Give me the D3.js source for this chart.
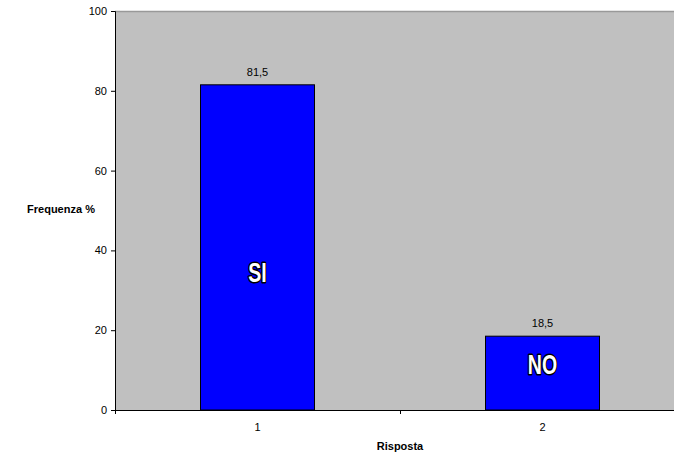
<!DOCTYPE html>
<html><head><meta charset="utf-8">
<script src="https://cdn.jsdelivr.net/npm/d3@7"></script>
<style>body{margin:0;background:#fff;overflow:hidden}svg{display:block}</style>
</head><body>
<svg id="c" width="674" height="455"></svg>
<script>
const categories = ["1", "2"];
const values = [81.5, 18.5];
const barLabels = ["SI", "NO"];
const valueLabels = ["81,5", "18,5"];
const yTicks = [0, 20, 40, 60, 80, 100];

const svg = d3.select("#c");
const L = 115, R = 685, T = 11, B = 410;
const x = d3.scaleBand().domain(categories).range([L, R]).paddingInner(0).paddingOuter(0);
const y = d3.scaleLinear().domain([0, 100]).range([B, T]);
const font = "Arial, 'Liberation Sans', sans-serif";

svg.append("rect").attr("x", L).attr("y", T).attr("width", R - L).attr("height", B - T)
  .attr("fill", "#c0c0c0");
svg.append("line").attr("x1", L).attr("x2", R).attr("y1", T + 0.5).attr("y2", T + 0.5)
  .attr("stroke", "#999").attr("stroke-width", 1.5);

const bw = x.bandwidth() * 0.4;
const g = svg.append("g");
categories.forEach((c, i) => {
  const cx = x(c) + x.bandwidth() / 2;
  g.append("rect").attr("x", cx - bw / 2).attr("y", y(values[i]))
    .attr("width", bw).attr("height", y(0) - y(values[i]))
    .attr("fill", "#0000ff").attr("stroke", "#000").attr("stroke-width", 1);
  g.append("text").attr("x", cx).attr("y", y(values[i]) - 9)
    .attr("text-anchor", "middle").attr("font-family", font).attr("font-size", 11)
    .attr("fill", "#000").text(valueLabels[i]);
});

// inner labels (baseline positions in data units)
const labelPos = [32, 9];
categories.forEach((c, i) => {
  const cx = x(c) + x.bandwidth() / 2;
  svg.append("g").attr("transform", `translate(${cx},${y(labelPos[i])}) scale(0.7,1)`)
    .append("text").attr("x", 0).attr("y", 0)
    .attr("text-anchor", "middle")
    .attr("font-family", font)
    .attr("font-weight", "bold").attr("font-size", 28)
    .attr("fill", "#fff").attr("stroke", "#000").attr("stroke-width", 3)
    .attr("paint-order", "stroke").attr("stroke-linejoin", "round")
    .text(barLabels[i]);
});

// y axis
const ya = svg.append("g").attr("transform", `translate(${L},0)`)
  .call(d3.axisLeft(y).tickValues(yTicks).tickSize(4).tickPadding(4).tickFormat(d3.format("d")));
ya.select(".domain").attr("stroke", "#000");
ya.selectAll("text").attr("font-family", font).attr("font-size", 11).attr("fill", "#000");

// x axis
const xa = svg.append("g").attr("transform", `translate(0,${B})`)
  .call(d3.axisBottom(x).tickSize(0).tickPadding(13));
xa.select(".domain").attr("stroke", "#000");
xa.selectAll("text").attr("font-family", font).attr("font-size", 11).attr("fill", "#000");
[L, x("2"), R].forEach(px => {
  svg.append("line").attr("x1", px + 0.5).attr("x2", px + 0.5).attr("y1", B).attr("y2", B + 4)
    .attr("stroke", "#000");
});

svg.append("text").attr("x", 61).attr("y", 213).attr("text-anchor", "middle")
  .attr("font-family", font).attr("font-size", 11).attr("font-weight", "bold").text("Frequenza %");
svg.append("text").attr("x", 400).attr("y", 450).attr("text-anchor", "middle")
  .attr("font-family", font).attr("font-size", 11).attr("font-weight", "bold").text("Risposta");
</script>
</body></html>
